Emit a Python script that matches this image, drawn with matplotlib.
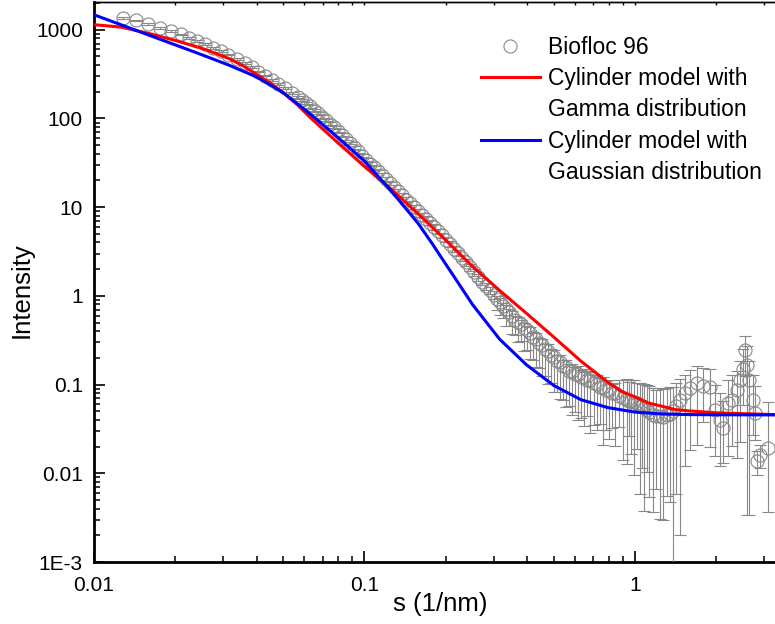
import matplotlib
matplotlib.use('Agg')
import matplotlib.pyplot as plt
import numpy as np
from matplotlib.lines import Line2D
from matplotlib.ticker import LogLocator, NullFormatter

plt.rcParams['font.family'] = ['Liberation Sans', 'DejaVu Sans']

# ---------------- data: Biofloc 96 (s in 1/nm, intensity) ----------------
s_A = [0.01277, 0.01430, 0.01579, 0.01754, 0.01927, 0.02097, 0.02251, 0.02397, 0.02573, 0.02761,
       0.02948, 0.03137, 0.03370, 0.03616, 0.03828, 0.04050, 0.04288, 0.04539, 0.04801, 0.05083, 0.05382]
I_A = [1366, 1274, 1169, 1045, 967, 885, 812, 745, 695, 626,
       574, 526, 470, 424, 379, 338, 305, 272, 245, 219, 193]
elo_A = [0.02, 0.02, 0.02, 0.02, 0.02, 0.02, 0.02, 0.02, 0.02, 0.02,
         0.02, 0.02, 0.02, 0.02, 0.02, 0.02, 0.02, 0.022, 0.022, 0.024, 0.024]
ehi_A = elo_A

s_B = [0.0566, 0.0586, 0.0606, 0.0627, 0.0649, 0.0671, 0.0695, 0.0719, 0.0744, 0.0770,
       0.0797, 0.0825, 0.0853, 0.0883, 0.0914, 0.0946, 0.0979, 0.1013, 0.1048, 0.1084,
       0.1122, 0.1161, 0.1201, 0.1243, 0.1286, 0.1331, 0.1377, 0.1425, 0.1474, 0.1525,
       0.1578, 0.1633, 0.1690, 0.1749, 0.1810, 0.1873, 0.1938, 0.2005, 0.2075, 0.2147,
       0.2221, 0.2298, 0.2378, 0.2461, 0.2546, 0.2634, 0.2726, 0.2820, 0.2918, 0.3020]
I_B = [174, 160, 148, 136.5, 125.5, 115, 105, 95.9, 87.4, 79.8,
       72.7, 65.5, 59.1, 53, 47.5, 42.5, 38.0, 34.2, 31.0, 28.2,
       25.4, 23.0, 20.75, 18.6, 16.8, 15.1, 13.6, 12.2, 11.1, 10.0,
       9.05, 8.2, 7.42, 6.68, 5.99, 5.35, 4.80, 4.32, 3.84, 3.42,
       3.04, 2.69, 2.38, 2.10, 1.85, 1.63, 1.45, 1.29, 1.15, 1.03]
elo_B = [0.025, 0.025, 0.026, 0.027, 0.028, 0.029, 0.03, 0.031, 0.032, 0.033,
         0.034, 0.035, 0.036, 0.037, 0.038, 0.039, 0.04, 0.041, 0.042, 0.043,
         0.044, 0.045, 0.046, 0.047, 0.048, 0.05, 0.052, 0.054, 0.056, 0.058,
         0.06, 0.062, 0.064, 0.066, 0.068, 0.07, 0.072, 0.074, 0.076, 0.078,
         0.08, 0.082, 0.084, 0.086, 0.088, 0.09, 0.092, 0.094, 0.097, 0.1]
ehi_B = elo_B

s_C = [0.3098, 0.3178, 0.3260, 0.3345, 0.3431, 0.3520, 0.3612, 0.3705, 0.3801, 0.3900,
       0.4001, 0.4105, 0.4211, 0.4320, 0.4432, 0.4547, 0.4665, 0.4786, 0.4910, 0.5037,
       0.5168, 0.5302, 0.5439, 0.5580, 0.5725, 0.5873, 0.6026, 0.6182, 0.6342, 0.6507,
       0.6675, 0.6848, 0.7026, 0.7208, 0.7395, 0.7587, 0.7783, 0.7985, 0.8192, 0.8405]
I_C = [0.93, 0.86, 0.77, 0.71, 0.65, 0.60, 0.54, 0.51, 0.48, 0.43,
       0.41, 0.385, 0.345, 0.33, 0.295, 0.28, 0.25, 0.24, 0.215, 0.205,
       0.185, 0.18, 0.16, 0.158, 0.142, 0.141, 0.13, 0.132, 0.121, 0.122,
       0.112, 0.113, 0.103, 0.102, 0.094, 0.095, 0.087, 0.088, 0.080, 0.081]
elo_C = [0.25, 0.3, 0.27, 0.35, 0.3, 0.38, 0.33, 0.4, 0.36, 0.45,
         0.4, 0.5, 0.45, 0.52, 0.48, 0.55, 0.5, 0.58, 0.52, 0.6,
         0.55, 0.62, 0.58, 0.65, 0.6, 0.68, 0.62, 0.7, 0.65, 0.72,
         0.6, 0.75, 0.66, 0.7, 0.62, 0.78, 0.65, 0.72, 0.6, 0.75]
ehi_C = [0.08, 0.1, 0.09, 0.11, 0.1, 0.12, 0.11, 0.13, 0.12, 0.14,
         0.13, 0.15, 0.14, 0.16, 0.15, 0.17, 0.16, 0.18, 0.17, 0.19,
         0.18, 0.2, 0.19, 0.21, 0.2, 0.22, 0.21, 0.23, 0.22, 0.24,
         0.23, 0.25, 0.24, 0.26, 0.25, 0.27, 0.26, 0.28, 0.27, 0.3]

s_D = [0.870, 0.900, 0.931, 0.950, 0.970, 0.990, 1.015, 1.040, 1.060, 1.080,
       1.104, 1.130, 1.169, 1.200, 1.237, 1.270, 1.310, 1.350, 1.386, 1.420,
       1.466, 1.530, 1.597, 1.691, 1.789, 1.894, 1.976, 2.060, 2.120, 2.213,
       2.277, 2.376, 2.444, 2.514, 2.552, 2.600, 2.650, 2.738, 2.777, 2.817,
       2.900, 3.110]
I_D = [0.0745, 0.071, 0.0678, 0.066, 0.0655, 0.063, 0.0621, 0.058, 0.057, 0.054,
       0.0521, 0.049, 0.0458, 0.044, 0.0438, 0.043, 0.0458, 0.047, 0.0499, 0.058,
       0.0678, 0.0805, 0.0915, 0.1045, 0.0957, 0.094, 0.052, 0.040, 0.0324, 0.0621,
       0.0678, 0.0878, 0.1139, 0.148, 0.2486, 0.168, 0.114, 0.0678, 0.0479, 0.0136,
       0.0162, 0.0193]
elo_D = [0.55, 0.8, 0.81, 0.6, 0.75, 0.85, 0.7, 0.9, 0.8, 0.93,
         0.8, 0.89, 0.92, 0.85, 0.93, 0.93, 0.88, 0.9, 0.9995, 0.9,
         0.97, 0.85, 0.8, 0.8, 0.6, 0.79, 0.7, 0.7, 0.6, 0.75,
         0.7, 0.83, 0.8, 0.6, 0.5, 0.98, 0.97, 0.6, 0.5, 0.3,
         0.3, 0.81]
ehi_D = [0.5, 0.6, 0.7, 0.6, 0.7, 0.8, 0.7, 0.8, 0.8, 0.9,
         0.9, 0.95, 1.0, 1.0, 1.1, 1.1, 1.0, 1.0, 0.9, 0.8,
         0.7, 0.6, 0.6, 0.55, 0.6, 0.6, 0.9, 1.0, 1.0, 0.8,
         0.9, 0.6, 0.6, 0.7, 0.41, 0.6, 0.6, 0.9, 1.0, 0.3,
         0.3, 2.3]

# ---------------- model curves ----------------
s_gamma = [0.01, 0.01259, 0.01585, 0.01995, 0.02512, 0.03162, 0.03548, 0.03981, 0.04467, 0.05012,
           0.05623, 0.0631, 0.07943, 0.1, 0.1259, 0.1585, 0.1995, 0.2512, 0.3162, 0.3981,
           0.5012, 0.631, 0.7943, 0.8913, 1.0, 1.122, 1.259, 1.413, 1.585, 1.995,
           2.512, 3.294]
I_gamma = [1140, 1072, 912, 759, 617, 473, 394, 316, 253, 195,
           144.5, 102, 53.7, 28.8, 15.85, 8.32, 4.27, 2.14, 1.148, 0.631,
           0.343, 0.184, 0.106, 0.0841, 0.0724, 0.0620, 0.0569, 0.0522, 0.0505, 0.0481,
           0.0470, 0.0459]

s_gauss = [0.01, 0.01259, 0.01585, 0.01995, 0.02512, 0.03162, 0.03981, 0.05012, 0.0631, 0.07943,
           0.1, 0.1259, 0.1585, 0.1778, 0.1995, 0.2239, 0.2512, 0.3162, 0.3981, 0.5012,
           0.631, 0.7943, 1.0, 1.259, 1.585, 1.995, 3.294]
I_gauss = [1476, 1138, 877, 676, 521, 398, 295, 195, 112, 61.7,
           33.1, 15.1, 6.46, 3.9, 2.29, 1.35, 0.794, 0.324, 0.166, 0.0977,
           0.0676, 0.055, 0.049, 0.0466, 0.0459, 0.0457, 0.0455]

labels = ['Biofloc 96', 'Cylinder model with', 'Gamma distribution',
          'Cylinder model with', 'Gaussian distribution']
xtick_vals = [0.01, 0.1, 1]
xtick_labels = ['0.01', '0.1', '1']
ytick_vals = [1e-3, 1e-2, 1e-1, 1, 10, 100, 1000]
ytick_labels = ['1E-3', '0.01', '0.1', '1', '10', '100', '1000']

# ---------------- assemble ----------------
s = np.array(s_A + s_B + s_C + s_D)
I = np.array(I_A + I_B + I_C + I_D)
lo = np.array(elo_A + elo_B + elo_C + elo_D) * I
hi = np.array(ehi_A + ehi_B + ehi_C + ehi_D) * I

W, H = 775, 624
fig = plt.figure(figsize=(W / 100, H / 100), dpi=100)
ax = fig.add_axes([94 / W, 62 / H, 681 / W, 560 / H])
ax.set_xscale('log')
ax.set_yscale('log')

gray = '#888888'
ax.errorbar(s, I, yerr=[lo, hi], fmt='none', ecolor=gray, elinewidth=0.8,
            capsize=4.3, capthick=0.8, zorder=3)
ax.plot(s, I, 'o', ms=9.4, mfc='none', mec=gray, mew=0.8, zorder=2)
ax.plot(s_gamma, I_gamma, color='#ff0000', lw=2.2, zorder=4, solid_joinstyle='round')
ax.plot(s_gauss, I_gauss, color='#0000ff', lw=2.2, zorder=5, solid_joinstyle='round')

ax.set_xlim(0.01, 3.294)
ax.set_ylim(1e-3, 2056)

ax.set_xticks(xtick_vals, xtick_labels)
ax.set_yticks(ytick_vals, ytick_labels)
ax.xaxis.set_minor_locator(LogLocator(base=10, subs=np.arange(2, 10)))
ax.yaxis.set_minor_locator(LogLocator(base=10, subs=np.arange(2, 10)))
ax.xaxis.set_minor_formatter(NullFormatter())
ax.yaxis.set_minor_formatter(NullFormatter())

ax.tick_params(which='major', direction='in', length=7.7, width=1.2, labelsize=15,
               top=False, right=False, colors='black')
ax.tick_params(which='minor', direction='in', length=4.1, width=1.1, top=False, right=False)
ax.tick_params(axis='x', which='major', pad=10)
ax.tick_params(axis='y', which='major', pad=8)

ax.spines['right'].set_visible(False)
ax.spines['left'].set_linewidth(2.0)
ax.spines['bottom'].set_linewidth(2.0)
ax.spines['top'].set_linewidth(1.0)

sec = ax.secondary_xaxis('top')
sec.set_xticks(xtick_vals)
sec.xaxis.set_minor_locator(LogLocator(base=10, subs=np.arange(2, 10)))
sec.xaxis.set_major_formatter(NullFormatter())
sec.xaxis.set_minor_formatter(NullFormatter())
sec.tick_params(which='both', direction='in', length=2.5, width=1.0)
sec.spines['top'].set_linewidth(1.0)

fig.text(22 / W, 1 - 290 / H, 'Intensity', rotation=90, ha='center', va='center', fontsize=18.5)
fig.text(440 / W, 1 - 604 / H, 's (1/nm)', ha='center', va='center', fontsize=18.5)

handles = [Line2D([], [], ls='none', marker='o', ms=9.4, mfc='none', mec=gray, mew=0.8),
           Line2D([], [], color='#ff0000', lw=2.2),
           Line2D([], [], ls='none'),
           Line2D([], [], color='#0000ff', lw=2.2),
           Line2D([], [], ls='none')]
ax.legend(handles, labels, loc='upper right', bbox_to_anchor=(762 / W, 1 - 36 / H),
          bbox_transform=fig.transFigure, frameon=False, fontsize=16.5,
          handlelength=2.6, handletextpad=0.35, labelspacing=0.36,
          borderpad=0, borderaxespad=0)

fig.savefig('out.png', dpi=100)
